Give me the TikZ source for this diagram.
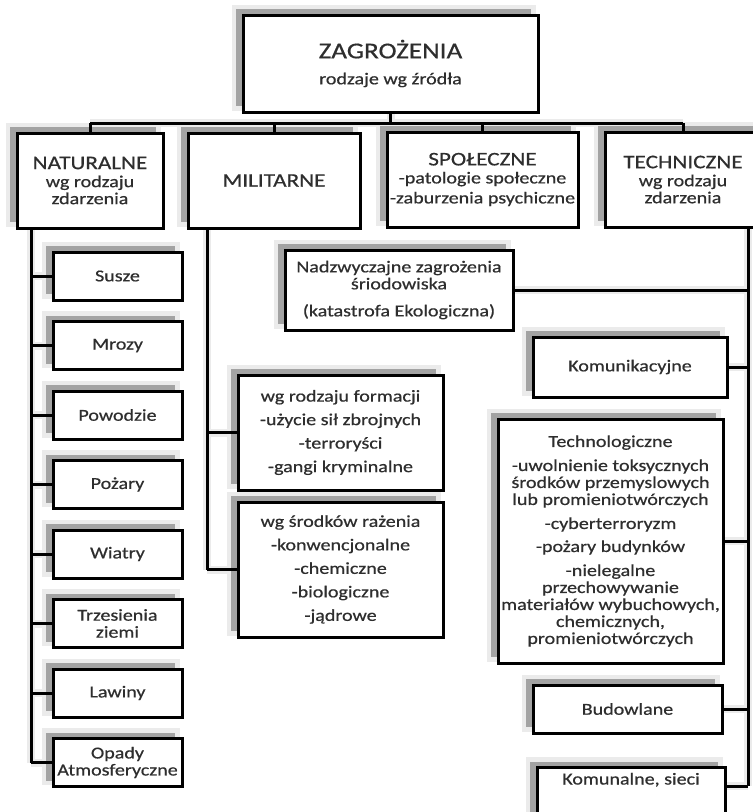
\documentclass[tikz,border=0pt]{standalone}
\usepackage{fontspec}
\setmainfont{Carlito}[FakeStretch=1.2, FakeBold=0.6]
\usetikzlibrary{shadows,backgrounds}

% text sizes
\newcommand\txtbody{\fontsize{16.7}{17}\selectfont}
\newcommand\txthead{\fontsize{19.3}{20}\selectfont}
\newcommand\txttitle{\fontsize{22.7}{24}\selectfont}

\tikzset{
  box/.style={draw=black, line width=3pt, fill=white, inner sep=0pt,
    align=center, text=black!82, font=\txtbody,
    drop shadow={shadow xshift=-7pt, shadow yshift=6pt, opacity=1,
      fill=black!8, draw=black!8, line width=9pt},
    drop shadow={shadow xshift=-7pt, shadow yshift=6pt, opacity=1,
      fill=black!36}},
  link/.style={line width=3pt, draw=black},
  linkshade/.style={line width=2.4pt, draw=black!26},
  linkhalo/.style={line width=8pt, draw=black!8},
}

% all connectors, drawn with the style given as argument
\newcommand\wires[1]{%
  % top level
  \draw[#1] (top.south) -- (top.south |- bar);
  \draw[#1] (nat.north |- bar) -- (tech.north |- bar);
  \foreach \n in {nat,mil,spo,tech} \draw[#1] (\n.north |- bar) -- (\n.north);
  % natural hazards
  \draw[#1] (nat.south -| nt) -- (n8.west -| nt);
  \foreach \n in {n1,n2,n3,n4,n5,n6,n7,n8} \draw[#1] (\n.west -| nt) -- (\n.west);
  % military hazards
  \draw[#1] (mil.south -| mt) -- (m2.west -| mt);
  \foreach \n in {m1,m2} \draw[#1] (\n.west -| mt) -- (\n.west);
  % technical hazards
  \draw[#1] (tech.south -| tt) -- (kc -| tt);
  \foreach \n in {nad,komk,techn,bud} \draw[#1] (\n.east) -- (\n.east -| tt);
  \draw[#1] (kc) -- (kc -| tt);
}

\begin{document}
\begin{tikzpicture}[x=1pt, y=-1pt]
\useasboundingbox (0,0) rectangle (753,812);
\clip (0,0) rectangle (753,812);

% trunk and bar positions
\coordinate (bar) at (0,123);
\coordinate (nt) at (31,0);
\coordinate (mt) at (207,0);
\coordinate (tt) at (748,0);

% root
\node[box, minimum width=295pt, minimum height=97pt] (top) at (390.5,63.5)
  {{\txttitle ZAGROŻENIA}\\[9pt]rodzaje wg źródła};

% categories
\node[box, minimum width=146pt, minimum height=95pt] (nat) at (90,180.5)
  {{\txthead NATURALNE}\\[1pt]wg rodzaju\\zdarzenia};
\node[box, minimum width=172pt, minimum height=95pt] (mil) at (274,180.5)
  {{\txthead MILITARNE}};
\node[box, minimum width=191pt, minimum height=95pt] (spo) at (482.5,179.5)
  {{\txthead SPOŁECZNE}\\[1pt]-patologie społeczne\\[3pt]-zaburzenia psychiczne};
\node[box, minimum width=156pt, minimum height=95pt] (tech) at (683,179.5)
  {{\txthead TECHNICZNE}\\[1pt]wg rodzaju\\zdarzenia};

% natural
\tikzset{nbox/.style={box, minimum width=129pt, minimum height=48pt}}
\node[nbox] (n1) at (117.5,276) {Susze};
\node[nbox] (n2) at (117.5,345.5) {Mrozy};
\node[nbox] (n3) at (117.5,415) {Powodzie};
\node[nbox] (n4) at (117.5,484.5) {Pożary};
\node[nbox] (n5) at (117.5,554) {Wiatry};
\node[nbox] (n6) at (117.5,623.5) {Trzesienia\\ziemi};
\node[nbox] (n7) at (117.5,693) {Lawiny};
\node[nbox] (n8) at (117.5,762.5) {Opady\\Atmosferyczne};

% military
\node[box, minimum width=205pt, minimum height=115pt] (m1) at (340.5,432.5)
  {wg rodzaju formacji\\[6.5pt]-użycie sił zbrojnych\\[6.5pt]-terroryści\\[6.5pt]-gangi kryminalne};
\node[box, minimum width=205pt, minimum height=135pt] (m2) at (340.5,569.5)
  {wg środków rażenia\\[6.5pt]-konwencjonalne\\[6.5pt]-chemiczne\\[6.5pt]-biologiczne\\[6.5pt]-jądrowe};

% technical
\node[box, minimum width=228pt, minimum height=80pt] (nad) at (399,290)
  {Nadzwyczajne zagrożenia\\śriodowiska\\[10pt](katastrofa Ekologiczna)};
\node[box, minimum width=194pt, minimum height=60pt] (komk) at (630,367)
  {Komunikacyjne};
\node[box, minimum width=225pt, minimum height=244pt] (techn) at (610.5,541)
  {Technologiczne\\[7pt]-uwolnienie toksycznych\\środków przemyslowych\\lub promieniotwórczych\\[7pt]-cyberterroryzm\\[6pt]-pożary budynków\\[7pt]-nielegalne\\przechowywanie\\materiałów wybuchowych,\\chemicznych,\\promieniotwórczych};
\node[box, minimum width=189pt, minimum height=48pt] (bud) at (627.5,709)
  {Budowlane};
\node[box, minimum width=188pt, text height=17pt, text depth=75pt, anchor=north] (komn) at (631,766)
  {Komunalne, sieci};
\coordinate (kc) at ([yshift=-20pt]komn.north east);

% connectors with their shadows
\begin{scope}[on background layer]
  \begin{scope}[shift={(-7,-6)}]
    \wires{linkhalo}
    \wires{linkshade}
  \end{scope}
\end{scope}
\wires{link}
\end{tikzpicture}
\end{document}
